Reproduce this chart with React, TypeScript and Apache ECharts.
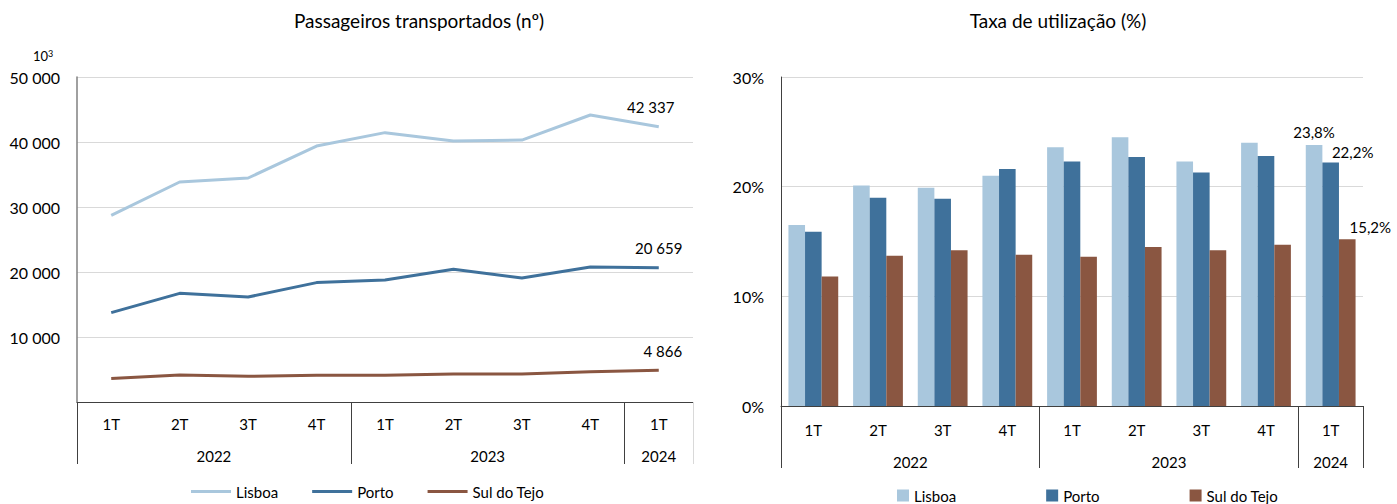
import React, { useEffect, useRef } from "react";
import * as echarts from "echarts";

const FONT = "Lato, 'Noto Sans', sans-serif";

const quarters = ["1T", "2T", "3T", "4T", "1T", "2T", "3T", "4T", "1T"];
const years = ["2022", "2023", "2024"];
const yearSpans = [4, 4, 1];
const seriesNames = ["Lisboa", "Porto", "Sul do Tejo"];
const seriesColors = ["#a9c7dd", "#3f719b", "#8a5641"];

// Passageiros transportados (milhares)
const passLisboa = [28700, 33850, 34460, 39380, 41440, 40150, 40300, 44150, 42337];
const passPorto = [13750, 16720, 16150, 18370, 18770, 20420, 19080, 20770, 20659];
const passSul = [3600, 4160, 3950, 4100, 4100, 4300, 4300, 4670, 4866];

// Taxa de utilização (%)
const taxaLisboa = [16.5, 20.1, 19.9, 21.0, 23.6, 24.5, 22.3, 24.0, 23.8];
const taxaPorto = [15.9, 19.0, 18.9, 21.6, 22.3, 22.7, 21.3, 22.8, 22.2];
const taxaSul = [11.8, 13.7, 14.2, 13.8, 13.6, 14.5, 14.2, 14.7, 15.2];

const fmtThousands = (v: number) =>
  String(Math.round(v)).replace(/\B(?=(\d{3})+(?!\d))/g, " ");
const fmtPct = (v: number) => v.toFixed(1).replace(".", ",") + "%";

// year group boundaries and centres on a 0..n scale
const yearBounds: number[] = [];
const yearCenters: number[] = [];
{
  let acc = 0;
  yearSpans.forEach((s) => {
    yearBounds.push(acc);
    yearCenters.push(acc + s / 2);
    acc += s;
  });
}
const nCat = quarters.length;
const yearLabelAt = (v: number) => {
  const i = yearCenters.findIndex((c) => Math.abs(c - v) < 1e-6);
  return i >= 0 ? years[i] : "";
};

const AXIS_DARK = "#404040";
const GRID_COLOR = "#d9d9d9";

function yearAxes(tickLen: number, labelMargin: number, lastTickColor: string) {
  return [
    {
      type: "value",
      min: 0,
      max: nCat,
      position: "bottom",
      axisLine: { show: false },
      splitLine: { show: false },
      axisTick: {
        show: true,
        customValues: yearBounds,
        length: tickLen,
        lineStyle: { color: AXIS_DARK, width: 1 },
      },
      axisLabel: {
        show: true,
        customValues: yearCenters,
        formatter: (v: number) => yearLabelAt(v),
        margin: labelMargin,
        fontSize: 15,
        color: "#000",
        fontFamily: FONT,
      },
    },
    {
      type: "value",
      min: 0,
      max: nCat,
      position: "bottom",
      axisLine: { show: false },
      splitLine: { show: false },
      axisTick: {
        show: true,
        customValues: [nCat],
        length: tickLen,
        lineStyle: { color: lastTickColor, width: 1 },
      },
      axisLabel: { show: false },
    },
  ];
}

function lastOnly(values: number[], label: any) {
  return values.map((v, i) =>
    i === values.length - 1 ? { value: v, label: { show: true, ...label } } : v
  );
}

function leftOption(): any {
  const data = [passLisboa, passPorto, passSul];
  const offsets = [[-8, 0], [0, 0], [4, 0]];
  return {
    animation: false,
    textStyle: { fontFamily: FONT },
    grid: { left: 77, right: 5, top: 77, bottom: 102 },
    graphic: [
      {
        type: "text",
        x: 419,
        y: 20,
        style: {
          text: "Passageiros transportados (nº)",
          fontSize: 19,
          fontFamily: FONT,
          fill: "#000",
          textAlign: "center",
          textVerticalAlign: "middle",
        },
      },
      {
        type: "text",
        x: 33,
        y: 56,
        style: {
          text: "10{sup|3}",
          fontSize: 13,
          fontFamily: FONT,
          fill: "#000",
          textVerticalAlign: "middle",
          rich: { sup: { fontSize: 9, verticalAlign: "top", padding: [0, 0, 6, 0], fontFamily: FONT } },
        },
      },
    ],
    legend: {
      left: 186,
      top: 479,
      itemWidth: 40,
      itemHeight: 3,
      itemGap: 34,
      icon: "rect",
      selectedMode: false,
      textStyle: { fontSize: 15, color: "#000", fontFamily: FONT },
      data: seriesNames,
    },
    xAxis: [
      {
        type: "category",
        data: quarters,
        boundaryGap: true,
        position: "bottom",
        axisLine: { show: true, lineStyle: { color: AXIS_DARK, width: 1 } },
        axisTick: { show: false },
        axisLabel: { margin: 14, fontSize: 15, color: "#000", fontFamily: FONT },
        splitLine: { show: false },
      },
      ...yearAxes(62, 46, GRID_COLOR),
    ],
    yAxis: {
      type: "value",
      min: 0,
      max: 50000,
      interval: 10000,
      axisLine: { show: true, lineStyle: { color: "#808080", width: 1.5 } },
      axisTick: { show: false },
      axisLabel: {
        formatter: (v: number) => (v === 0 ? "" : fmtThousands(v)),
        fontSize: 16,
        margin: 17,
        color: "#000",
        fontFamily: FONT,
      },
      splitLine: { show: true, lineStyle: { color: GRID_COLOR, width: 1 } },
    },
    series: seriesNames.map((name, k) => ({
      name,
      type: "line",
      xAxisIndex: 0,
      yAxisIndex: 0,
      symbol: "circle",
      symbolSize: 0,
      showSymbol: true,
      lineStyle: { width: 3, color: seriesColors[k] },
      itemStyle: { color: seriesColors[k] },
      label: { show: false },
      data: lastOnly(data[k], {
        position: "top",
        distance: 12,
        offset: offsets[k],
        formatter: (p: any) => fmtThousands(p.value),
        fontSize: 15,
        color: "#000",
        fontFamily: FONT,
      }),
    })),
  };
}

function rightOption(): any {
  const data = [taxaLisboa, taxaPorto, taxaSul];
  const offsets = [[0, 0], [22, 2], [23, 0]];
  return {
    animation: false,
    textStyle: { fontFamily: FONT },
    grid: { left: 83, right: 34, top: 77, bottom: 98 },
    graphic: [
      {
        type: "text",
        x: 360,
        y: 20,
        style: {
          text: "Taxa de utilização (%)",
          fontSize: 19,
          fontFamily: FONT,
          fill: "#000",
          textAlign: "center",
          textVerticalAlign: "middle",
        },
      },
    ],
    legend: {
      left: 194,
      top: 483,
      itemWidth: 12,
      itemHeight: 12,
      itemGap: 90,
      icon: "rect",
      selectedMode: false,
      textStyle: { fontSize: 15, color: "#000", fontFamily: FONT },
      data: seriesNames,
    },
    xAxis: [
      {
        type: "category",
        data: quarters,
        boundaryGap: true,
        position: "bottom",
        axisLine: { show: true, lineStyle: { color: AXIS_DARK, width: 1 } },
        axisTick: { show: false },
        axisLabel: { margin: 16, fontSize: 15, color: "#000", fontFamily: FONT },
        splitLine: { show: false },
      },
      ...yearAxes(62, 48, AXIS_DARK),
    ],
    yAxis: {
      type: "value",
      min: 0,
      max: 30,
      interval: 10,
      axisLine: { show: true, lineStyle: { color: AXIS_DARK, width: 1 } },
      axisTick: { show: false },
      axisLabel: {
        formatter: (v: number) => v + "%",
        fontSize: 16,
        margin: 17,
        color: "#000",
        fontFamily: FONT,
      },
      splitLine: { show: true, lineStyle: { color: GRID_COLOR, width: 1 } },
    },
    series: seriesNames.map((name, k) => ({
      name,
      type: "bar",
      xAxisIndex: 0,
      yAxisIndex: 0,
      barGap: "0%",
      barCategoryGap: "23%",
      itemStyle: { color: seriesColors[k] },
      label: { show: false },
      data: lastOnly(data[k], {
        position: "top",
        distance: 5,
        offset: offsets[k],
        formatter: (p: any) => fmtPct(p.value),
        fontSize: 15,
        color: "#000",
        fontFamily: FONT,
      }),
    })),
  };
}

function Chart({ width, option }: { width: number; option: any }) {
  const ref = useRef<HTMLDivElement>(null);
  useEffect(() => {
    if (!ref.current) return;
    const chart = echarts.init(ref.current, undefined, { renderer: "svg" });
    chart.setOption(option);
    return () => chart.dispose();
  }, []);
  return <div ref={ref} style={{ width, height: 504 }} />;
}

export default function App() {
  return (
    <div
      style={{
        position: "absolute",
        left: 0,
        top: 0,
        width: 1397,
        height: 504,
        display: "flex",
        background: "#fff",
      }}
    >
      <Chart width={698} option={leftOption()} />
      <Chart width={699} option={rightOption()} />
    </div>
  );
}
